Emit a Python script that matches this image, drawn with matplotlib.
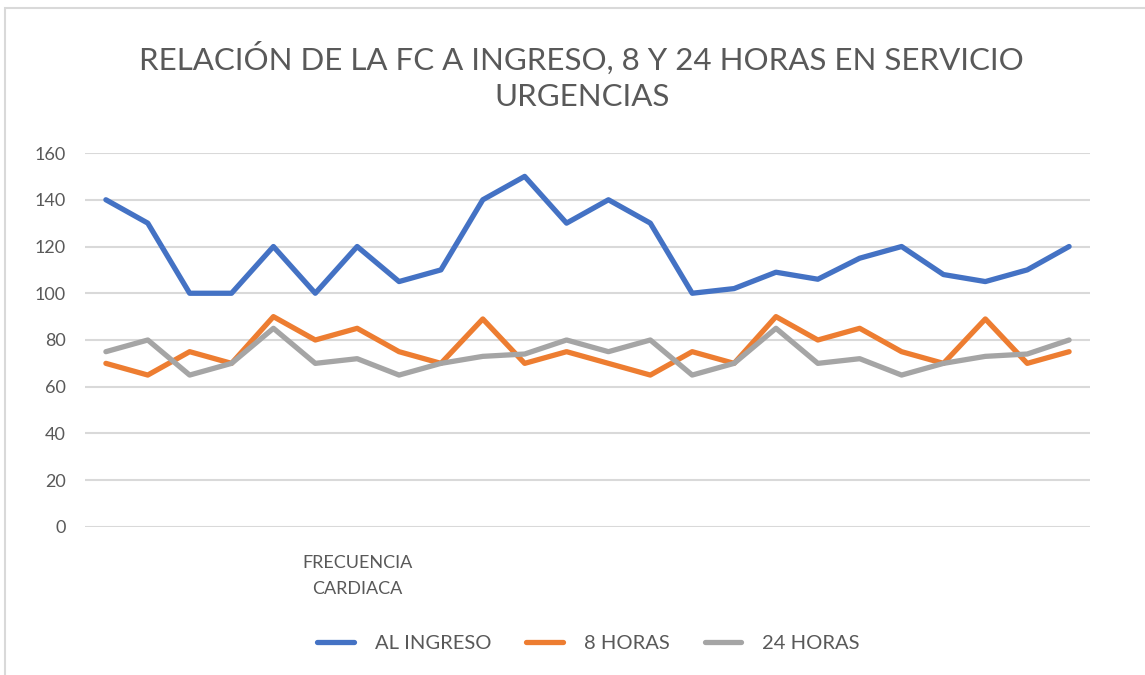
import matplotlib.pyplot as plt
import numpy as np
from matplotlib.patches import Rectangle

plt.rcParams['font.family'] = ['Lato', 'DejaVu Sans']

# Heart rate values for the 24 patients
al_ingreso = [140, 130, 100, 100, 120, 100, 120, 105, 110, 140, 150, 130,
              140, 130, 100, 102, 109, 106, 115, 120, 108, 105, 110, 120]
ocho_horas = [70, 65, 75, 70, 90, 80, 85, 75, 70, 89, 70, 75,
              70, 65, 75, 70, 90, 80, 85, 75, 70, 89, 70, 75]
veinticuatro_horas = [75, 80, 65, 70, 85, 70, 72, 65, 70, 73, 74, 80,
                      75, 80, 65, 70, 85, 70, 72, 65, 70, 73, 74, 80]
series_names = ['AL INGRESO', '8 HORAS', '24 HORAS']
category_label = 'FRECUENCIA\nCARDIACA'
y_ticks = [0, 20, 40, 60, 80, 100, 120, 140, 160]

colors = ['#4472C4', '#ED7D31', '#A5A5A5']
text_color = '#595959'

fig = plt.figure(figsize=(11.45, 6.75), dpi=100)
ax = fig.add_axes([0.0742, 0.2193, 0.8778, 0.554])

x = np.arange(len(al_ingreso))
for vals, name, c in zip([al_ingreso, ocho_horas, veinticuatro_horas],
                         series_names, colors):
    ax.plot(x, vals, color=c, linewidth=3.8, label=name,
            solid_joinstyle='round', solid_capstyle='round')

ax.set_xlim(-0.5, len(x) - 0.5)
ax.set_ylim(0, 160)
ax.set_yticks(y_ticks)
ax.set_yticklabels([str(t) for t in y_ticks], fontsize=13, color=text_color)
ax.set_xticks([6])
ax.set_xticklabels([category_label], fontsize=13, color=text_color,
                   linespacing=1.75)
ax.tick_params(length=0, pad=14)
ax.tick_params(axis='x', pad=20)
ax.grid(axis='y', color='#D9D9D9', linewidth=1.5)
ax.set_axisbelow(True)
for s in ax.spines.values():
    s.set_visible(False)

fig.text(0.508, 0.887, 'RELACIÓN DE LA FC A INGRESO, 8 Y 24 HORAS EN SERVICIO\nURGENCIAS',
         ha='center', va='center', fontsize=22.5, color=text_color,
         linespacing=1.4)

fig.legend(loc='center', bbox_to_anchor=(0.514, 0.047), ncol=3, frameon=False,
           fontsize=14.5, handlelength=1.8, handletextpad=1.05, columnspacing=1.75,
           labelcolor=text_color)

fig.patches.append(Rectangle((0.004, -0.01), 1.2, 0.998, transform=fig.transFigure,
                             fill=False, edgecolor='#D9D9D9', linewidth=1.5))

fig.savefig('out.png', dpi=100, facecolor='white')
